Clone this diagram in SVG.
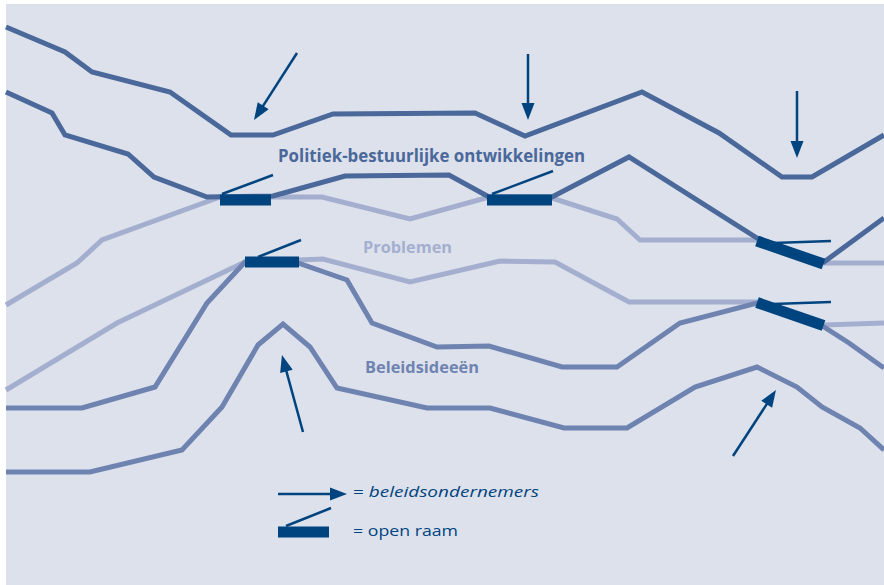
<svg xmlns="http://www.w3.org/2000/svg" width="884" height="585" viewBox="0 0 884 585">
<defs>
<marker id="ah" markerUnits="userSpaceOnUse" markerWidth="18" markerHeight="14" refX="7" refY="6.5" orient="auto" overflow="visible">
<path d="M0,0 L17,6.5 L0,13 Z" fill="#00447f"/>
</marker>
<style>
.ln{fill:none;stroke-width:5;stroke-linejoin:miter;stroke-linecap:butt}
.pol{stroke:#4a6899}
.pro{stroke:#a4afcf}
.bel{stroke:#6f83b1}
.arr{stroke:#00447f;stroke-width:2.5;fill:none;marker-end:url(#ah)}
.thin{stroke:#00447f;stroke-width:2.5;fill:none}
.bar{stroke:#00447f;stroke-width:11;fill:none}
.lbl{font-family:"Open Sans","Noto Sans","Liberation Sans",sans-serif;font-weight:700}
.leg{font-family:"Open Sans","Noto Sans","Liberation Sans",sans-serif;fill:#00447f;font-size:15px}
</style>
</defs>
<rect x="0" y="0" width="884" height="585" fill="#ffffff"/>
<rect x="6" y="4" width="878" height="581" fill="#dde1ec"/>
<g id="connectors">
<polyline class="ln pro" points="6,305 77,263 102,240 220,197 322,197 410,219 489,197 552,198 617,219 640,240 757,240 824,263 884,263"/>
<polyline class="ln pro" points="6,390 117,323 245,262 323,259 410,282 500,261 555,262 629,302 757,302 824,325 884,323"/>
<polyline class="ln bel" points="6,408 82,408 155,387 207,303 245,262 298,263 347,280 372,323 437,347 489,346 562,367 617,367 680,323 757,303 824,327 849,343 884,368"/>
<polyline class="ln bel" points="6,472 90,472 182,450 222,407 258,345 283,324 310,347 337,388 427,408 490,408 564,428 627,428 695,387 757,367 797,387 822,407 860,428 884,450"/>
<polyline class="ln pol" points="6,27 65,52 92,72 170,92 231,135 273,135 333,114 475,113 525,136 642,92 719,133 782,177 812,177 884,135"/>
<polyline class="ln pol" points="6,92 52,113 65,135 128,154 154,177 207,197 273,196 345,176 449,175 489,197 552,197 629,157 757,238 824,262 884,218"/>
<line class="arr" x1="297" y1="53" x2="259.4" y2="111.6"/>
<line class="arr" x1="528" y1="54" x2="528" y2="110"/>
<line class="arr" x1="797" y1="91" x2="797" y2="148"/>
<line class="arr" x1="303" y1="432" x2="284.6" y2="364.6"/>
<line class="arr" x1="733" y1="456" x2="770.5" y2="398.4"/>
</g>
<g id="window1">
<line class="bar" x1="220" y1="200" x2="271" y2="200"/>
<line class="thin" x1="222" y1="194" x2="273" y2="175"/>
</g>
<g id="window2">
<line class="bar" x1="487" y1="200" x2="552" y2="200"/>
<line class="thin" x1="492" y1="194" x2="553" y2="171"/>
</g>
<g id="window3">
<line class="bar" x1="245" y1="262" x2="299" y2="262"/>
<line class="thin" x1="258" y1="257" x2="301" y2="240"/>
</g>
<g id="window4">
<line class="bar" x1="757" y1="241" x2="823.5" y2="264"/>
<line class="thin" x1="773" y1="243" x2="831" y2="241"/>
</g>
<g id="window5">
<line class="bar" x1="757" y1="302.5" x2="823.5" y2="325.5"/>
<line class="thin" x1="773" y1="304" x2="831" y2="302"/>
</g>
<g id="label-politiek">
<text class="lbl" x="278" y="162" font-size="17" fill="#4a6899" textLength="307" lengthAdjust="spacingAndGlyphs">Politiek-bestuurlijke ontwikkelingen</text>
</g>
<g id="label-problemen">
<text class="lbl" x="363" y="252.5" font-size="16.5" fill="#a4afcf" textLength="89" lengthAdjust="spacingAndGlyphs">Problemen</text>
</g>
<g id="label-beleidsideeen">
<text class="lbl" x="365" y="372.5" font-size="16.5" fill="#6f83b1" textLength="114" lengthAdjust="spacingAndGlyphs">Beleidsideeën</text>
</g>
<g id="legend">
<line class="arr" x1="278" y1="494" x2="337" y2="494"/>
<text class="leg" x="353" y="497" textLength="186" lengthAdjust="spacingAndGlyphs">= <tspan font-style="italic">beleidsondernemers</tspan></text>
<line class="bar" x1="278" y1="532" x2="329" y2="532"/>
<line class="thin" x1="286" y1="526" x2="331" y2="508"/>
<text class="leg" x="353" y="535.5" textLength="105" lengthAdjust="spacingAndGlyphs">= open raam</text>
</g>
</svg>
